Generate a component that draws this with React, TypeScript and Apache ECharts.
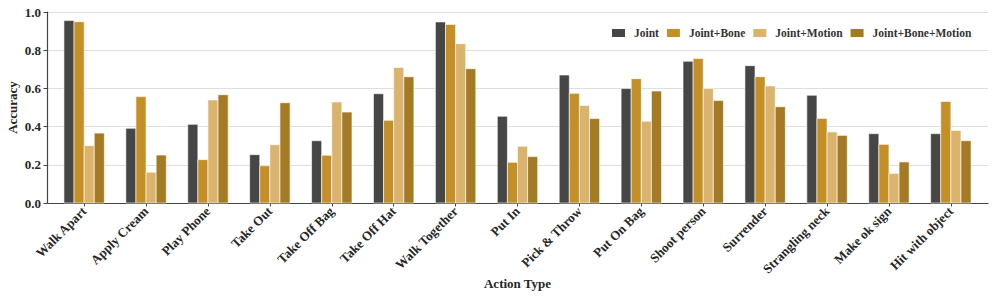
import React, { useEffect, useRef } from "react";
import * as echarts from "echarts";

const categories = [
  "Walk Apart", "Apply Cream", "Play Phone", "Take Out", "Take Off Bag", "Take Off Hat",
  "Walk Together", "Put In", "Pick & Throw", "Put On Bag", "Shoot person", "Surrender",
  "Strangling neck", "Make ok sign", "Hit with object",
];
const seriesNames = ["Joint", "Joint+Bone", "Joint+Motion", "Joint+Bone+Motion"];
const joint = [0.955, 0.391, 0.412, 0.253, 0.326, 0.572, 0.948, 0.454, 0.670, 0.599, 0.742, 0.719, 0.564, 0.363, 0.363];
const jointBone = [0.949, 0.557, 0.227, 0.195, 0.250, 0.433, 0.935, 0.213, 0.574, 0.651, 0.757, 0.661, 0.443, 0.307, 0.532];
const jointMotion = [0.300, 0.161, 0.539, 0.305, 0.529, 0.709, 0.834, 0.297, 0.511, 0.428, 0.600, 0.613, 0.372, 0.155, 0.380];
const jointBoneMotion = [0.366, 0.251, 0.567, 0.525, 0.476, 0.661, 0.703, 0.243, 0.442, 0.586, 0.536, 0.504, 0.354, 0.215, 0.326];
const yTicks = [0, 0.2, 0.4, 0.6, 0.8, 1.0];
const colors = ["#464646", "#C48F27", "#DAB36C", "#A47A24"];

const FONT = "'Liberation Serif', 'Times New Roman', serif";
const BAR_W = 10.1;

export default function App() {
  const ref = useRef<HTMLDivElement>(null);
  useEffect(() => {
    if (!ref.current) return;
    const chart = echarts.init(ref.current, null, { renderer: "svg" });
    const all = [joint, jointBone, jointMotion, jointBoneMotion];
    const idx = categories.map((_, i) => i);
    chart.setOption({
      animation: false,
      backgroundColor: "#ffffff",
      grid: { left: 47, right: 9, top: 12, bottom: 96, containLabel: false, outerBoundsMode: "none" },
      legend: {
        data: seriesNames,
        left: 612,
        top: 27,
        padding: 0,
        itemWidth: 13,
        itemHeight: 8,
        itemGap: 8,
        icon: "rect",
        textStyle: { fontFamily: FONT, fontWeight: "bold", fontSize: 11.5, color: "#333", padding: [0, 0, 0, 4] },
      },
      xAxis: {
        type: "value",
        min: -0.6,
        max: 14.6,
        name: "Action Type",
        nameLocation: "middle",
        nameGap: 74,
        nameMoveOverlap: false,
        nameTextStyle: { fontFamily: FONT, fontWeight: "bold", fontSize: 13, color: "#262626" },
        axisLine: { show: true, onZero: false, lineStyle: { color: "#444", width: 1.2 } },
        axisTick: { show: true, customValues: idx, length: 3.5, lineStyle: { color: "#444" } },
        splitLine: { show: false },
        axisLabel: {
          customValues: idx,
          rotate: 45,
          margin: 6,
          fontFamily: FONT,
          fontWeight: "bold",
          fontSize: 13,
          color: "#262626",
          formatter: (v: number) => categories[Math.round(v)] ?? "",
        },
      },
      yAxis: {
        type: "value",
        min: 0,
        max: 1,
        interval: 0.2,
        name: "Accuracy",
        nameLocation: "middle",
        nameGap: 28,
        nameMoveOverlap: false,
        nameTextStyle: { fontFamily: FONT, fontWeight: "bold", fontSize: 13, color: "#262626" },
        axisLine: { show: true, onZero: false, lineStyle: { color: "#444", width: 1.2 } },
        axisTick: { show: true, length: 3.5, lineStyle: { color: "#444" } },
        splitLine: { show: true, lineStyle: { color: "#dedede", width: 1.2 } },
        axisLabel: {
          margin: 6,
          fontFamily: FONT,
          fontWeight: "bold",
          fontSize: 13,
          color: "#262626",
          formatter: (v: number) => (yTicks.includes(Math.round(v * 10) / 10) ? v.toFixed(1) : ""),
        },
      },
      series: seriesNames.map((name, s) => ({
        name,
        type: "custom",
        itemStyle: { color: colors[s] },
        encode: { x: 0, y: 1 },
        data: all[s].map((v, i) => [i, v]),
        renderItem: (params: any, api: any) => {
          const xv = api.value(0);
          const yv = api.value(1);
          const top = api.coord([xv, yv]);
          const base = api.coord([xv, 0]);
          const off = (s - 2) * BAR_W;
          return {
            type: "rect",
            shape: { x: top[0] + off, y: top[1], width: BAR_W, height: base[1] - top[1] },
            style: { fill: colors[s], stroke: "rgba(255,255,255,0.75)", lineWidth: 0.8 },
          };
        },
      })),
    });
    return () => chart.dispose();
  }, []);
  return <div ref={ref} style={{ width: 997, height: 299, position: "absolute", left: 0, top: 0 }} />;
}
